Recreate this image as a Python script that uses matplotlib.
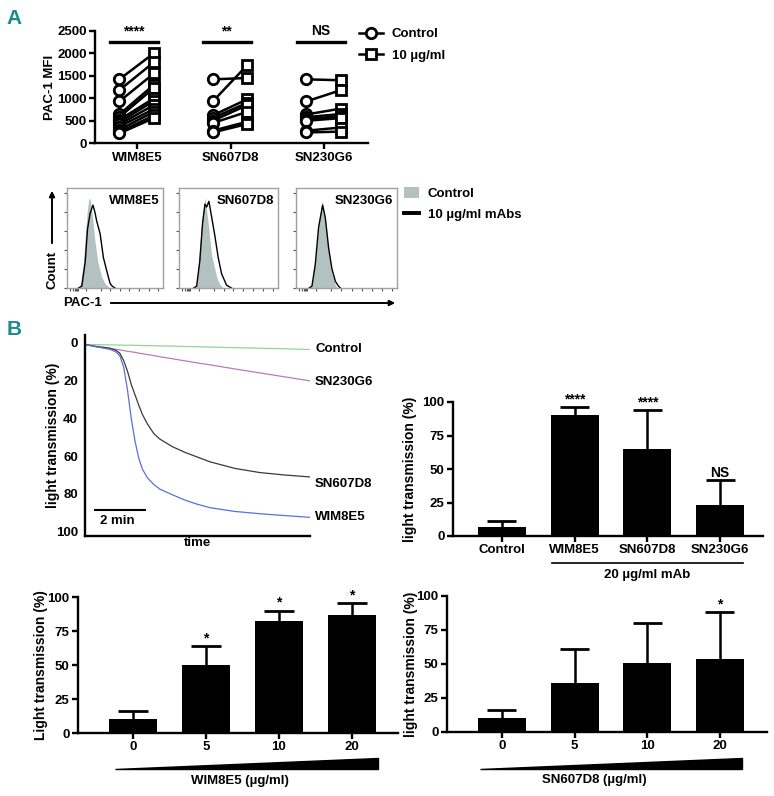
import numpy as np
import matplotlib.pyplot as plt
from matplotlib.lines import Line2D
from matplotlib.patches import Patch, Polygon, FancyArrowPatch

plt.rcParams['font.family'] = ['Liberation Sans', 'DejaVu Sans']
plt.rcParams['font.weight'] = 'bold'
plt.rcParams['axes.labelweight'] = 'bold'
plt.rcParams['font.size'] = 9.5
plt.rcParams['axes.linewidth'] = 1.7

W, H = 774, 796
TEAL = '#1b8c8c'

# ---- panel A, PAC-1 MFI per donor
mabs = ['WIM8E5', 'SN607D8', 'SN230G6']
wim_ctrl = [1420, 1180, 930, 640, 580, 520, 470, 420, 370, 300, 250, 220]
wim_10 = [2000, 1800, 1550, 1300, 1230, 1000, 940, 850, 760, 700, 620, 560]
sn607_ctrl = [1420, 930, 620, 560, 500, 450, 280, 240]
sn607_10 = [1450, 1740, 980, 900, 850, 700, 480, 430]
sn230_ctrl = [1420, 930, 640, 580, 540, 500, 280, 240]
sn230_10 = [1400, 1180, 770, 650, 600, 560, 350, 260]
sig_a = ['****', '**', 'NS']

# ---- panel A, histograms (x: 0-100 of log scale, y: % of max)
h1_ctrl_x = [12, 14, 17, 19, 21, 22.5, 23.5, 25, 27, 29, 32, 36, 40, 45]
h1_ctrl_y = [0, 5, 25, 55, 80, 92, 95, 88, 70, 50, 28, 12, 4, 0]
h1_mab_x = [12, 15.5, 19, 21.4, 24, 27, 29, 31, 34.5, 37.9, 41.4, 44.8, 47, 50]
h1_mab_y = [0, 2, 28, 62, 78, 87, 80, 70, 57, 32, 18, 5, 2, 0]
h2_ctrl_x = [15, 17.8, 21, 23.8, 26.2, 29.5, 32.9, 37.9, 41, 44.6]
h2_ctrl_y = [0, 3, 45, 78, 95, 68, 35, 12, 4, 0]
h2_mab_x = [15, 17.8, 21, 23.8, 26.2, 27.9, 30.2, 32.9, 36.2, 39.6, 43, 48, 53]
h2_mab_y = [0, 2, 28, 68, 88, 85, 91, 75, 55, 32, 15, 3, 0]
h3_ctrl_x = [13, 15.8, 19.1, 22.4, 25.7, 29, 32.3, 35.6, 39, 41]
h3_ctrl_y = [0, 3, 28, 68, 92, 72, 38, 15, 3, 0]
h3_mab_x = [13, 15.8, 19.1, 22.4, 26.4, 29, 32.3, 35.6, 39, 42, 44]
h3_mab_y = [0, 2, 25, 64, 87, 74, 42, 20, 7, 2, 0]

# ---- panel B, aggregation traces (time in min, light transmission %)
t_trace = [0, 0.25, 0.5, 0.75, 1.0, 1.25, 1.4, 1.55, 1.7, 1.85, 2.0, 2.15,
           2.3, 2.5, 2.75, 3.0, 3.5, 4.0, 4.5, 5, 6, 7, 8, 9]
tr_control = [0.8, 0.9, 0.9, 1.0, 1.0, 1.1, 1.1, 1.2, 1.2, 1.2, 1.3, 1.3,
              1.4, 1.4, 1.5, 1.6, 1.7, 1.9, 2.0, 2.2, 2.5, 2.8, 3.1, 3.5]
tr_sn230 = [1.2, 1.3, 1.8, 2.3, 2.9, 3.4, 3.7, 4.1, 4.4, 4.7, 5.0, 5.4,
            5.7, 6.2, 6.7, 7.3, 8.4, 9.5, 10.6, 11.6, 13.8, 15.9, 18.0, 20.1]
tr_sn607 = [0.7, 1.5, 2.1, 2.4, 2.8, 4.0, 5.6, 9.5, 15, 22, 27.5, 33,
            38, 43, 48, 51, 55, 58, 60.5, 63, 66.5, 68.7, 70, 71]
tr_wim = [0.7, 1.5, 2.2, 2.8, 3.4, 4.8, 7, 13, 25, 40, 52, 61,
          67, 71.5, 75, 77.5, 80.5, 83.3, 85.5, 87.3, 89.3, 90.5, 91.5, 92.4]

# ---- panel B, bar charts
agg_groups = ['Control', 'WIM8E5', 'SN607D8', 'SN230G6']
agg_mean = [7, 90, 65, 23]
agg_sd = [4.5, 6, 29, 18.5]
agg_sig = ['', '****', '****', 'NS']

dose = ['0', '5', '10', '20']
wim_mean = [10, 50, 82, 86.5]
wim_sd = [6, 14, 8, 9]
wim_sig = ['', '*', '*', '*']
sn607_mean = [10, 36, 50.5, 54]
sn607_sd = [6, 25, 30, 34]
sn607_sig = ['', '', '', '*']


def box(x0, y0, x1, y1):
    # pixel box (top-left origin) -> figure fraction rect
    return [x0 / W, 1 - y1 / H, (x1 - x0) / W, (y1 - y0) / H]


def fp(x, y):
    return (x / W, 1 - y / H)


fig = plt.figure(figsize=(W / 100, H / 100), dpi=100)

fig.text(*fp(14, 18), 'A', color=TEAL, fontsize=15, ha='center', va='center')
fig.text(*fp(14, 330), 'B', color=TEAL, fontsize=15, ha='center', va='center')

# ---------------- A: paired plot
ax = fig.add_axes(box(95, 30.7, 368, 143.3))
pairs = [(wim_ctrl, wim_10), (sn607_ctrl, sn607_10), (sn230_ctrl, sn230_10)]
for i, (c, m) in enumerate(pairs):
    for a, b in zip(c, m):
        ax.plot([i - 0.19, i + 0.18], [a, b], color='k', lw=1.8, zorder=2)
    ax.plot([i - 0.19] * len(c), c, 'o', ms=7.5, mfc='white', mec='k', mew=2,
            zorder=3, clip_on=False)
    ax.plot([i + 0.18] * len(m), m, 's', ms=7.5, mfc='white', mec='k', mew=2,
            zorder=3, clip_on=False)
    ax.plot([i - 0.29, i + 0.22], [2250, 2250], color='k', lw=2.4, clip_on=False)
    ax.text(i - 0.04, 2330, sig_a[i], ha='center', va='bottom', fontsize=10)
ax.set_xlim(-0.45, 2.47)
ax.set_ylim(0, 2500)
ax.set_yticks([0, 500, 1000, 1500, 2000, 2500])
ax.set_xticks(range(3))
ax.set_xticklabels(mabs)
ax.set_ylabel('PAC-1 MFI', labelpad=1)
ax.spines[['top', 'right']].set_visible(False)
ax.tick_params(width=1.7, length=4, pad=2)
leg_handles = [
    Line2D([], [], color='k', lw=1.8, marker='o', ms=7.5, mfc='white', mew=2),
    Line2D([], [], color='k', lw=1.8, marker='s', ms=7.5, mfc='white', mew=2),
]
fig.legend(leg_handles, ['Control', '10 \u00b5g/ml'], loc='upper left',
           bbox_to_anchor=fp(359, 28), frameon=False, handlelength=1.8,
           handletextpad=0.7, labelspacing=0.7, borderaxespad=0, borderpad=0)

# ---------------- A: histograms
hist_boxes = [(67, 163), (179, 278), (296, 397)]
hists = [(h1_ctrl_x, h1_ctrl_y, h1_mab_x, h1_mab_y),
         (h2_ctrl_x, h2_ctrl_y, h2_mab_x, h2_mab_y),
         (h3_ctrl_x, h3_ctrl_y, h3_mab_x, h3_mab_y)]
for (x0, x1), (cx, cy, mx, my), name in zip(hist_boxes, hists, mabs):
    hx = fig.add_axes(box(x0, 188, x1, 288))
    hx.fill_between(cx, cy, color='#b3c1c1', lw=0)
    hx.plot(mx, my, color='k', lw=1.0)
    hx.set_xlim(0, 100)
    hx.set_ylim(0, 105)
    for s in hx.spines.values():
        s.set_color('#a0a0a0')
        s.set_linewidth(1.0)
    hx.set_yticks([0, 20, 40, 60, 80, 100])
    hx.set_xticks([3, 6, 8, 9, 10, 11, 20, 35, 45, 55, 65, 75, 85, 95])
    hx.tick_params(length=2.5, width=0.8, color='#555555',
                   labelleft=False, labelbottom=False)
    hx.text(0.96, 0.87, name, transform=hx.transAxes, ha='right', va='center',
            fontsize=9.5)
fig.legend([Patch(facecolor='#b3c1c1', edgecolor='none'),
            Line2D([], [], color='k', lw=2.8)],
           ['Control', '10 \u00b5g/ml mAbs'], loc='upper left',
           bbox_to_anchor=fp(404, 187), frameon=False, handlelength=1.1,
           handleheight=0.9, handletextpad=0.7, labelspacing=0.6,
           borderaxespad=0, borderpad=0)
fig.add_artist(FancyArrowPatch(fp(52, 246), fp(52, 188), arrowstyle='-|>',
                               mutation_scale=8, lw=1.4, color='k',
                               transform=fig.transFigure))
fig.text(*fp(52, 270), 'Count', rotation=90, ha='center', va='center')
fig.text(*fp(63, 303), 'PAC-1', ha='left', va='center')
fig.add_artist(FancyArrowPatch(fp(108, 303), fp(398, 303), arrowstyle='-|>',
                               mutation_scale=8, lw=1.4, color='k',
                               transform=fig.transFigure))

# ---------------- B: aggregation traces
tx = fig.add_axes(box(85, 335, 310, 536))
trace_colors = ['#90d890', '#b77cb7', '#3a3a3a', '#5b6fe0']
trace_names = ['Control', 'SN230G6', 'SN607D8', 'WIM8E5']
trace_label_dy = [-0.5, 0.5, 4, 0]
for ys, c, n, dy in zip([tr_control, tr_sn230, tr_sn607, tr_wim],
                        trace_colors, trace_names, trace_label_dy):
    tx.plot(t_trace, ys, color=c, lw=0.9)
    tx.text(9.2, ys[-1] + dy, n, ha='left', va='center')
tx.set_xlim(0, 9)
tx.set_ylim(102.3, -4.2)
tx.set_yticks([0, 20, 40, 60, 80, 100])
tx.set_xticks([])
tx.tick_params(axis='y', length=0, pad=5)
tx.spines[['top', 'right']].set_visible(False)
tx.set_ylabel('light transmission (%)', labelpad=-3, fontsize=10)
tx.set_xlabel('time', labelpad=1)
tx.plot([0.4, 2.4], [88.4, 88.4], color='k', lw=1.5)
tx.text(1.3, 91, '2 min', ha='center', va='top')


def bar_panel(ax, labels, means, sds, sig, ylabel, pad):
    x = np.arange(len(labels))
    ax.bar(x, means, width=0.66, color='k', zorder=2)
    tops = np.array(means) + np.array(sds)
    ax.vlines(x, means, tops, color='k', lw=1.8, zorder=1)
    ax.hlines(tops, x - 0.2, x + 0.2, color='k', lw=2, zorder=1)
    for xi, t, lab in zip(x, tops, sig):
        if lab:
            ax.text(xi, t + 0.5, lab, ha='center', va='bottom', fontsize=10)
    ax.set_ylim(0, 100)
    ax.set_yticks([0, 25, 50, 75, 100])
    ax.set_xticks(x)
    ax.set_xticklabels(labels)
    ax.spines[['top', 'right']].set_visible(False)
    ax.tick_params(width=1.7, length=4, pad=2)
    ax.set_ylabel(ylabel, fontsize=10, labelpad=pad)
    return x


# ---------------- B: bar chart 20 ug/ml
bx = fig.add_axes(box(453, 402, 763, 536))
bar_panel(bx, agg_groups, agg_mean, agg_sd, agg_sig, 'light transmission (%)', 4)
bx.set_xlim(-0.67, 3.59)
bx.plot([0.69, 3.31], [-20, -20], color='k', lw=1.2, clip_on=False)
bx.text(2.0, -29, '20 \u00b5g/ml mAb', ha='center', va='center')

# ---------------- B: dose response WIM8E5
dx = fig.add_axes(box(78, 597, 398, 733))
bar_panel(dx, dose, wim_mean, wim_sd, wim_sig, 'Light transmission (%)', 0)
dx.set_xlim(-0.753, 3.63)
dx.add_patch(Polygon([(-0.25, -26.5), (3.36, -26.5), (3.36, -18.4)],
                     closed=True, color='k', clip_on=False))
dx.text(1.47, -35, 'WIM8E5 (\u00b5g/ml)', ha='center', va='center')

# ---------------- B: dose response SN607D8
ex = fig.add_axes(box(447, 596, 767, 732))
bar_panel(ex, dose, sn607_mean, sn607_sd, sn607_sig, 'light transmission (%)', -1)
ex.set_xlim(-0.757, 3.65)
ex.add_patch(Polygon([(-0.3, -27.5), (3.31, -27.5), (3.31, -19)],
                     closed=True, color='k', clip_on=False))
ex.text(1.27, -35.5, 'SN607D8 (\u00b5g/ml)', ha='center', va='center')

fig.savefig('out.png', dpi=100)
